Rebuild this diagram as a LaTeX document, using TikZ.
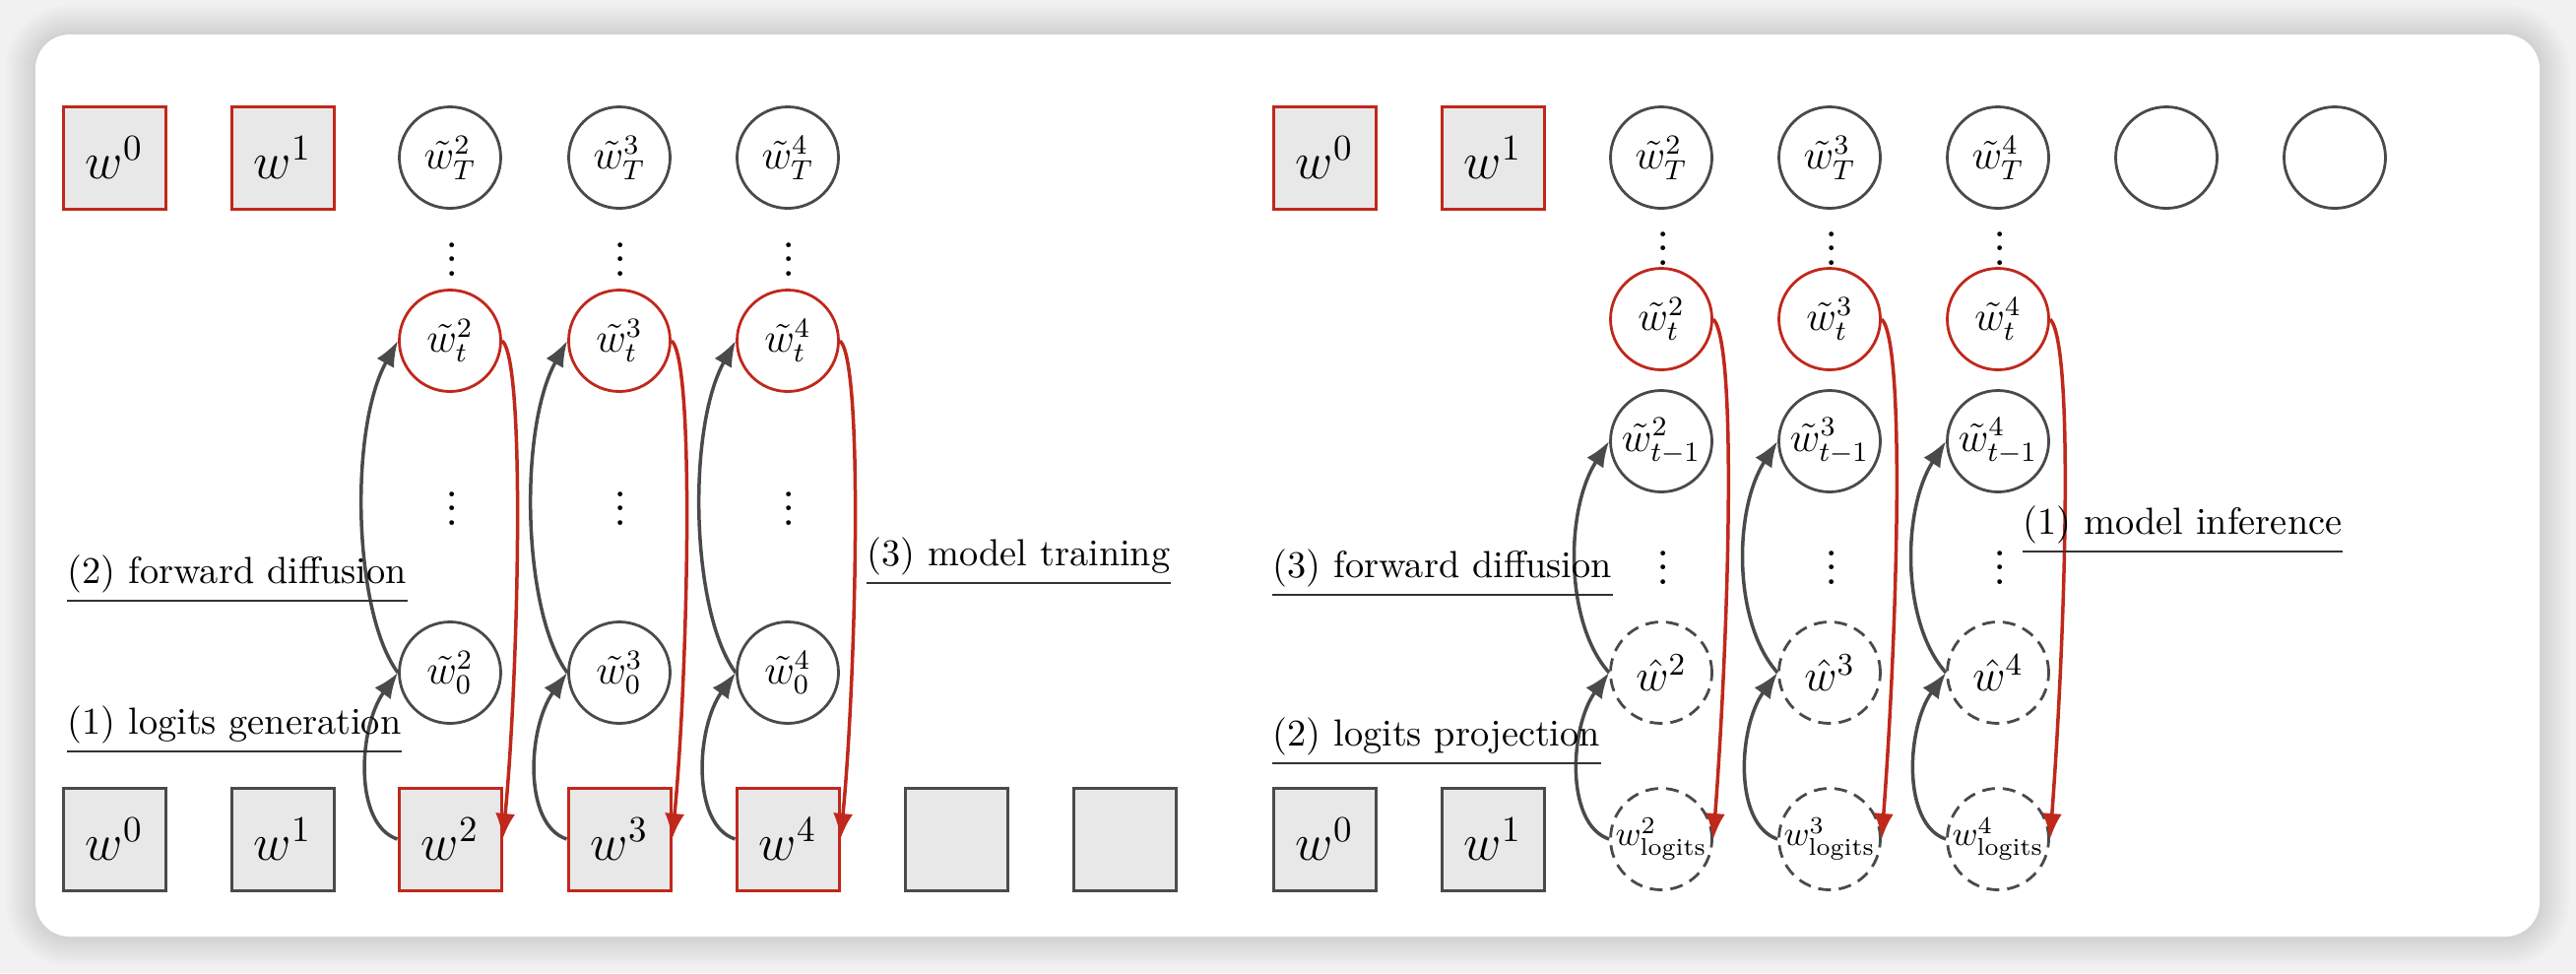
\RequirePackage{fix-cm}
\documentclass[tikz,border=0pt]{standalone}
\usepackage{amsmath}
\usepackage{fontspec}
\usetikzlibrary{arrows.meta}
\definecolor{myred}{HTML}{C0281C}
\definecolor{mygray}{HTML}{4A4A4A}
\definecolor{boxfill}{HTML}{E8E8E8}
\definecolor{bgcol}{HTML}{F1F1F1}
\begin{document}
\begin{tikzpicture}[x=0.1mm,y=-0.1mm,
  sq/.style={rectangle,draw=mygray,fill=boxfill,line width=0.3mm,minimum size=10.4mm,inner sep=0pt,font=\fontsize{15}{18}\selectfont},
  redsq/.style={sq,draw=myred},
  circ/.style={circle,draw=mygray,line width=0.28mm,minimum size=10.3mm,inner sep=0pt,font=\fontsize{12}{14}\selectfont},
  redcirc/.style={circ,draw=myred},
  dcirc/.style={circ,dash pattern=on 1.3mm off 0.8mm},
  vd/.style={inner sep=0pt,font=\fontsize{14}{16}\selectfont\boldmath},
  lbl/.style={inner sep=0pt,anchor=base west,font=\fontsize{10.9}{13}\selectfont},
  uline/.style={line width=0.2mm,draw=black!80},
  garrow/.style={draw=mygray,line width=0.35mm,-{Latex[length=2.6mm,width=2mm]}},
  rarrow/.style={draw=myred,line width=0.35mm,-{Latex[length=2.6mm,width=2mm]}},
]
\useasboundingbox (0,0) rectangle (2616,988);
% background and card
\fill[bgcol] (0,0) rectangle (2616,988);
\foreach \i [evaluate=\i as \r using 3.5+0.3*\i] in {1,...,10}
  \fill[black,opacity=0.012,rounded corners=\r mm] (36-3*\i,35-3*\i) rectangle (2579+3*\i,951+3*\i);
\fill[white,rounded corners=3.5mm] (36,35) rectangle (2579,951);

% ===== Left panel =====
\node[redsq] (Lw0t) at (116,160) {$w^0$};
\node[redsq] (Lw1t) at (287,160) {$w^1$};
\node[circ] (LT2) at (457,160) {$\tilde{w}^2_T$};
\node[circ] (LT3) at (629,160) {$\tilde{w}^3_T$};
\node[circ] (LT4) at (800,160) {$\tilde{w}^4_T$};
\node[vd] (Ld2a) at (459,253) {$\vdots$};
\node[vd] (Ld3a) at (630,253) {$\vdots$};
\node[vd] (Ld4a) at (801,253) {$\vdots$};
\node[redcirc] (Lt2) at (457,346) {$\tilde{w}^2_t$};
\node[redcirc] (Lt3) at (629,346) {$\tilde{w}^3_t$};
\node[redcirc] (Lt4) at (800,346) {$\tilde{w}^4_t$};
\node[vd] (Ld2b) at (459,506) {$\vdots$};
\node[vd] (Ld3b) at (630,506) {$\vdots$};
\node[vd] (Ld4b) at (801,506) {$\vdots$};
\node[circ] (Lz2) at (457,683) {$\tilde{w}^2_0$};
\node[circ] (Lz3) at (629,683) {$\tilde{w}^3_0$};
\node[circ] (Lz4) at (800,683) {$\tilde{w}^4_0$};
\node[sq] (Lw0b) at (116,852) {$w^0$};
\node[sq] (Lw1b) at (287,852) {$w^1$};
\node[redsq] (Lw2b) at (457,852) {$w^2$};
\node[redsq] (Lw3b) at (629,852) {$w^3$};
\node[redsq] (Lw4b) at (800,852) {$w^4$};
\node[sq] (Le1) at (971,852) {};
\node[sq] (Le2) at (1142,852) {};

\foreach \c in {2,3,4}{
  \draw[garrow] (Lw\c b.west) .. controls +(-45,-15) and +(-40,55) .. (Lz\c.west);
  \draw[garrow] (Lz\c.west) .. controls +(-45,-60) and +(-50,90) .. (Lt\c.west);
  \draw[rarrow] (Lt\c.east) .. controls +(25,20) and +(15,-150) .. (Lw\c b.east);
}

\node[lbl] (L1) at (68,592) {(2) forward diffusion};
\node[lbl] (L2) at (68,745) {(1) logits generation};
\node[lbl] (L3) at (880,574) {(3) model training};
\foreach \n in {L1,L2,L3}
  \draw[uline] ([yshift=-1.8mm]\n.base west) -- ([yshift=-1.8mm]\n.base east);

% ===== Right panel =====
\node[redsq] (Rw0t) at (1345,160) {$w^0$};
\node[redsq] (Rw1t) at (1516,160) {$w^1$};
\node[circ] (RT2) at (1687,160) {$\tilde{w}^2_T$};
\node[circ] (RT3) at (1858,160) {$\tilde{w}^3_T$};
\node[circ] (RT4) at (2029,160) {$\tilde{w}^4_T$};
\node[circ] (RE1) at (2200,160) {};
\node[circ] (RE2) at (2371,160) {};
\node[vd] (Rd2a) at (1689,242) {$\vdots$};
\node[vd] (Rd3a) at (1860,242) {$\vdots$};
\node[vd] (Rd4a) at (2031,242) {$\vdots$};
\node[redcirc] (Rt2) at (1687,324) {$\tilde{w}^2_t$};
\node[redcirc] (Rt3) at (1858,324) {$\tilde{w}^3_t$};
\node[redcirc] (Rt4) at (2029,324) {$\tilde{w}^4_t$};
\node[circ] (Rm2) at (1687,448) {$\tilde{w}^2_{t-1}$};
\node[circ] (Rm3) at (1858,448) {$\tilde{w}^3_{t-1}$};
\node[circ] (Rm4) at (2029,448) {$\tilde{w}^4_{t-1}$};
\node[vd] (Rd2b) at (1689,566) {$\vdots$};
\node[vd] (Rd3b) at (1860,566) {$\vdots$};
\node[vd] (Rd4b) at (2031,566) {$\vdots$};
\node[dcirc,font=\fontsize{13}{15}\selectfont] (Rh2) at (1687,683) {$\hat{w}^2$};
\node[dcirc,font=\fontsize{13}{15}\selectfont] (Rh3) at (1858,683) {$\hat{w}^3$};
\node[dcirc,font=\fontsize{13}{15}\selectfont] (Rh4) at (2029,683) {$\hat{w}^4$};
\node[dcirc,font=\fontsize{10}{12}\selectfont] (Rl2) at (1687,852) {$w^2_{\text{logits}}$};
\node[dcirc,font=\fontsize{10}{12}\selectfont] (Rl3) at (1858,852) {$w^3_{\text{logits}}$};
\node[dcirc,font=\fontsize{10}{12}\selectfont] (Rl4) at (2029,852) {$w^4_{\text{logits}}$};
\node[sq] (Rw0b) at (1345,852) {$w^0$};
\node[sq] (Rw1b) at (1516,852) {$w^1$};

\foreach \c in {2,3,4}{
  \draw[garrow] (Rl\c.west) .. controls +(-45,-15) and +(-40,55) .. (Rh\c.west);
  \draw[garrow] (Rh\c.west) .. controls +(-45,-50) and +(-45,70) .. (Rm\c.west);
  \draw[rarrow] (Rt\c.east) .. controls +(25,25) and +(15,-200) .. (Rl\c.east);
}

\node[lbl] (R1) at (1292,586) {(3) forward diffusion};
\node[lbl] (R2) at (1292,757) {(2) logits projection};
\node[lbl] (R3) at (2054,542) {(1) model inference};
\foreach \n in {R1,R2,R3}
  \draw[uline] ([yshift=-1.8mm]\n.base west) -- ([yshift=-1.8mm]\n.base east);
\end{tikzpicture}
\end{document}
